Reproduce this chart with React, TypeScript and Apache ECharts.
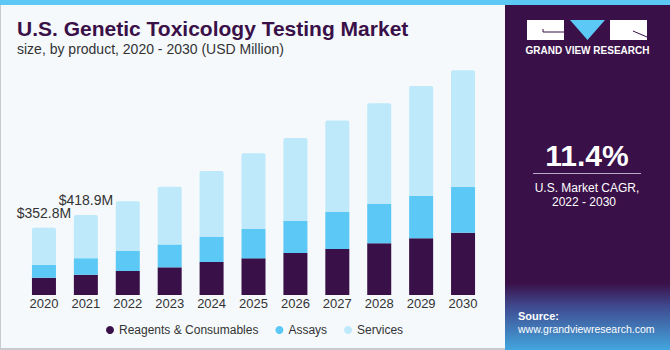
import React, { useEffect, useRef } from "react";
import * as echarts from "echarts";

const years = ["2020", "2021", "2022", "2023", "2024", "2025", "2026", "2027", "2028", "2029", "2030"];
const reagents = [90.8, 106, 126, 145, 173, 192, 220, 241, 271, 297, 326];
const assays = [68, 87, 105, 120, 133, 154, 168, 194, 206, 223, 241];
const services = [194, 225.9, 260, 302, 344, 397, 435, 480, 528, 575, 611];
const totalLabels = ["$352.8M", "$418.9M", "", "", "", "", "", "", "", "", ""];
const seriesNames = ["Reagents & Consumables", "Assays", "Services"];
const colors = ["#3a1048", "#5bc8f5", "#bde9fa"];

const FONT = "'Liberation Sans', Arial, sans-serif";

export default function App() {
  const ref = useRef<HTMLDivElement>(null);
  useEffect(() => {
    document.body.style.margin = "0";
    const chart = echarts.init(ref.current!, null, { renderer: "svg" });
    const option: any = {
      animation: false,
      backgroundColor: "#f5f9fc",
      textStyle: { fontFamily: FONT },
      grid: { left: 23, width: 461, top: 66, bottom: 55, containLabel: false },
      xAxis: {
        type: "category",
        data: years,
        axisLine: { show: false },
        axisTick: { show: false },
        axisLabel: { color: "#333", fontSize: 13, margin: 2, fontFamily: FONT },
      },
      yAxis: { type: "value", min: 0, max: 1200, show: false, splitLine: { show: false } },
      legend: {
        left: 101,
        top: 319,
        icon: "circle",
        itemWidth: 8,
        itemHeight: 8,
        itemGap: 17,
        textStyle: { color: "#333", fontSize: 12, fontFamily: FONT },
        data: seriesNames,
      },
      series: [
        {
          name: seriesNames[0],
          type: "bar",
          stack: "t",
          barWidth: 24,
          data: reagents,
          itemStyle: { color: colors[0] },
        },
        {
          name: seriesNames[1],
          type: "bar",
          stack: "t",
          barWidth: 24,
          data: assays,
          itemStyle: { color: colors[1] },
        },
        {
          name: seriesNames[2],
          type: "bar",
          stack: "t",
          barWidth: 24,
          data: services,
          itemStyle: { color: colors[2], borderRadius: [2, 2, 0, 0] },
          label: {
            show: true,
            position: "top",
            distance: 8,
            color: "#333",
            fontSize: 14,
            fontFamily: FONT,
            formatter: (p: any) => totalLabels[p.dataIndex],
          },
        },
      ],
      graphic: [
        { type: "rect", shape: { x: 0, y: 0, width: 670, height: 5 }, style: { fill: "#5bc8f5" }, z: 10 },
        { type: "rect", shape: { x: 0, y: 5, width: 1, height: 345 }, style: { fill: "#c8ccd0" } },
        { type: "rect", shape: { x: 0, y: 348, width: 505, height: 2 }, style: { fill: "#c8ccd0" } },
        { type: "rect", shape: { x: 505, y: 5, width: 165, height: 345 }, style: { fill: "#3a1048" } },
        {
          type: "rect",
          shape: { x: 505, y: 283, width: 165, height: 67 },
          style: {
            fill: new echarts.graphic.LinearGradient(0, 0, 0, 1, [
              { offset: 0, color: "#3a1048" },
              { offset: 0.35, color: "#3f4a8f" },
              { offset: 1, color: "#43a6de" },
            ]),
          },
        },
        // logo
        { type: "rect", shape: { x: 527, y: 20, width: 37, height: 20 }, style: { fill: "#ffffff" } },
        { type: "polyline", shape: { points: [[543, 29], [543, 32], [564, 32]] }, style: { stroke: "#3a1048", lineWidth: 1, fill: null } },
        { type: "polygon", shape: { points: [[570, 20], [605, 20], [587.5, 40]] }, style: { fill: "#5bc8f5" } },
        { type: "rect", shape: { x: 610, y: 20, width: 37, height: 20 }, style: { fill: "#ffffff" } },
        { type: "line", shape: { x1: 633, y1: 31, x2: 647, y2: 37 }, style: { stroke: "#3a1048", lineWidth: 1 } },
        {
          type: "text",
          x: 587.5,
          y: 50,
          style: { text: "GRAND VIEW RESEARCH", fill: "#ffffff", font: `bold 10px ${FONT}`, align: "center", verticalAlign: "middle" },
        },
        {
          type: "text",
          x: 587,
          y: 155,
          style: { text: "11.4%", fill: "#ffffff", font: `bold 30px ${FONT}`, align: "center", verticalAlign: "middle" },
        },
        { type: "rect", shape: { x: 533, y: 173, width: 108, height: 1 }, style: { fill: "#b8a8c8" } },
        {
          type: "text",
          x: 587,
          y: 188,
          style: { text: "U.S. Market CAGR,", fill: "#ffffff", font: `12px ${FONT}`, align: "center", verticalAlign: "middle" },
        },
        {
          type: "text",
          x: 584,
          y: 202,
          style: { text: "2022 - 2030", fill: "#ffffff", font: `12px ${FONT}`, align: "center", verticalAlign: "middle" },
        },
        {
          type: "text",
          x: 518,
          y: 316,
          style: { text: "Source:", fill: "#ffffff", font: `bold 11px ${FONT}`, align: "left", verticalAlign: "middle" },
        },
        {
          type: "text",
          x: 518,
          y: 329,
          style: { text: "www.grandviewresearch.com", fill: "#ffffff", font: `10.5px ${FONT}`, align: "left", verticalAlign: "middle" },
        },
        // titles
        {
          type: "text",
          x: 17,
          y: 28.6,
          style: { text: "U.S. Genetic Toxicology Testing Market", fill: "#3a1048", font: `bold 21px ${FONT}`, align: "left", verticalAlign: "middle" },
        },
        {
          type: "text",
          x: 17,
          y: 49,
          style: { text: "size, by product, 2020 - 2030 (USD Million)", fill: "#333333", font: `14px ${FONT}`, align: "left", verticalAlign: "middle" },
        },
      ],
    };
    chart.setOption(option);
    return () => chart.dispose();
  }, []);
  return <div ref={ref} style={{ position: "absolute", left: 0, top: 0, width: 670, height: 350 }} />;
}
